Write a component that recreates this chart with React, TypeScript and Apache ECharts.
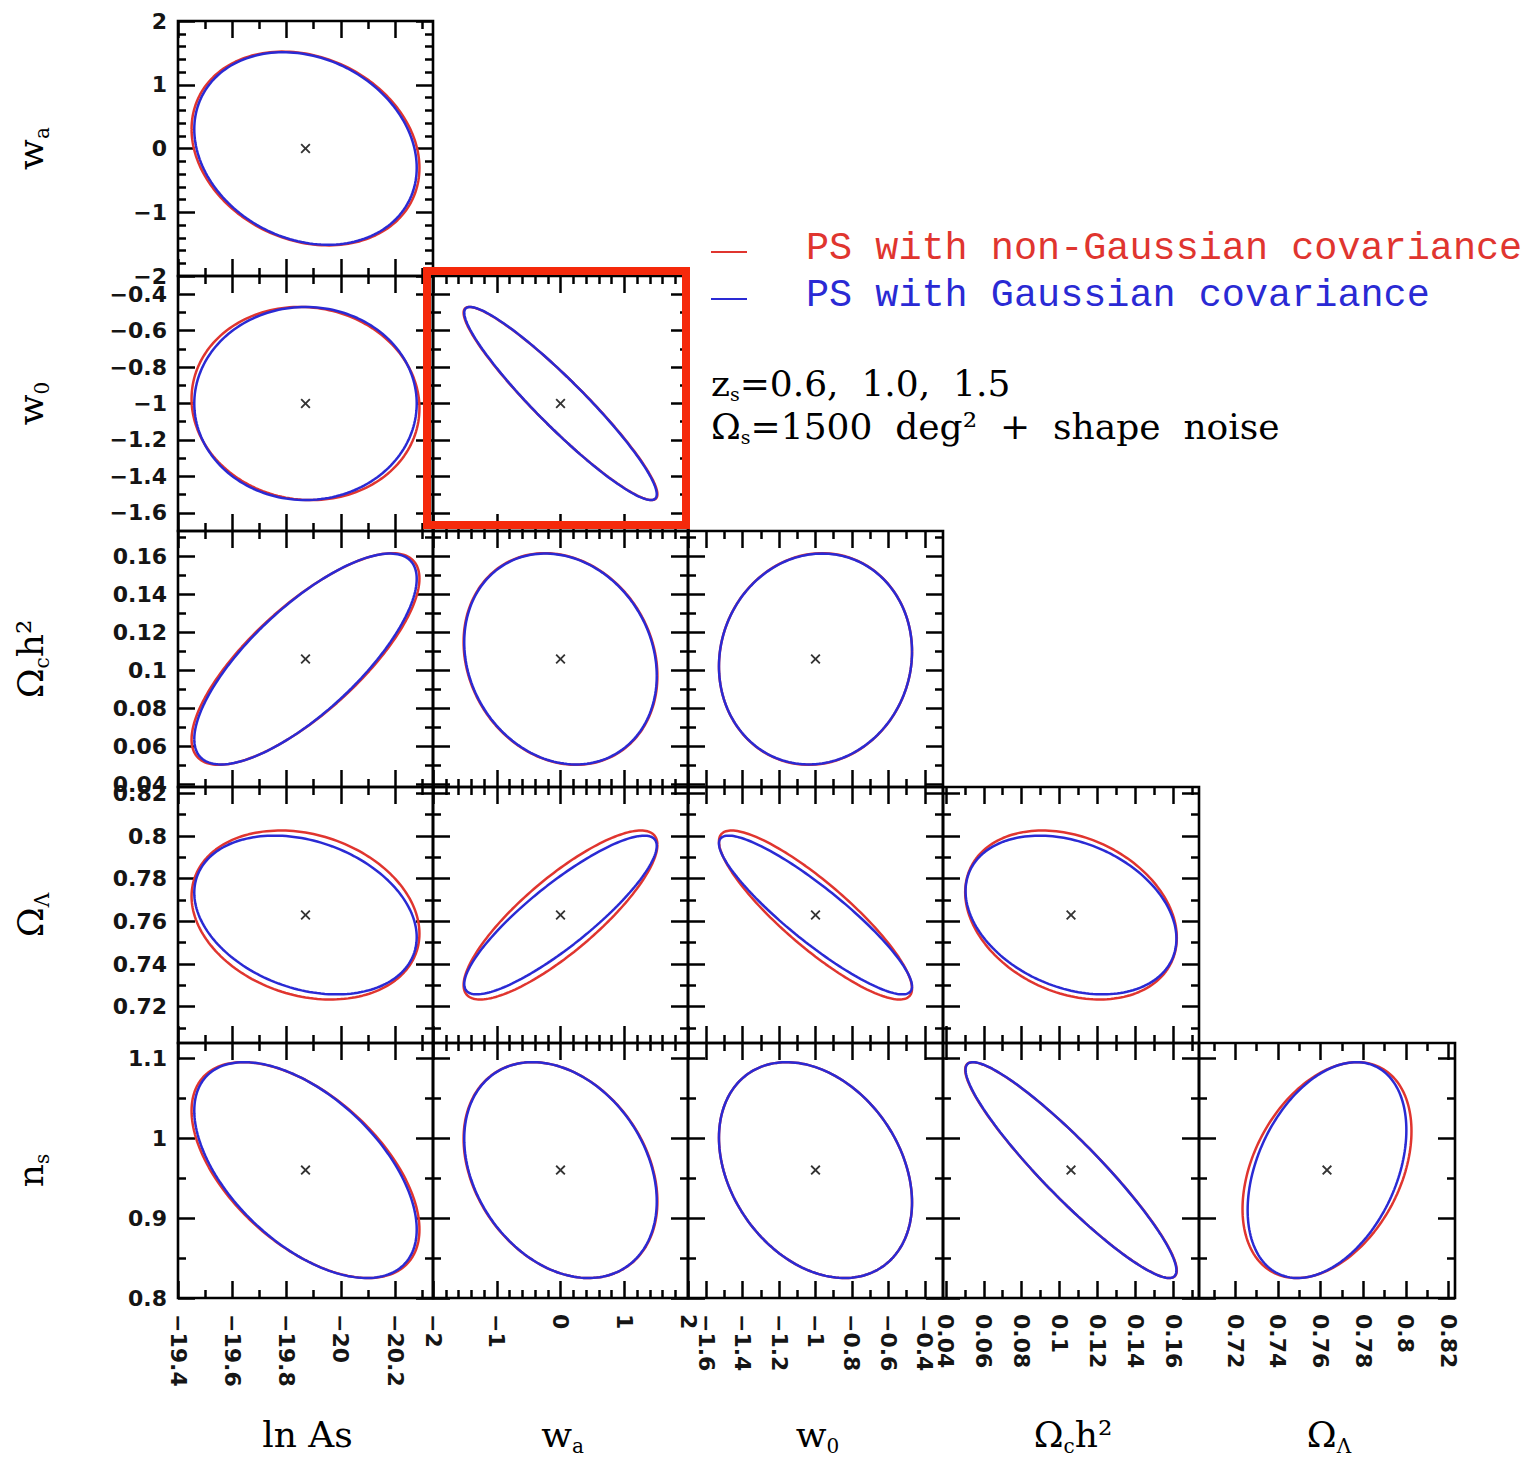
import React, { useEffect, useRef } from "react";
import * as echarts from "echarts";

// ---------- data ----------
// parameters: 0 ln As, 1 w_a, 2 w_0, 3 Ω_c h², 4 Ω_Λ, 5 n_s
const fiducial = [-19.87, 0, -1, 0.106, 0.763, 0.96];
const halfRed = [0.42, 1.52, 0.53, 0.0558, 0.0396, 0.135];
const halfBlue = [0.41, 1.51, 0.53, 0.0556, 0.0372, 0.135];
// correlation for panel [row][col]; rows: w_a, w_0, Ω_c h², Ω_Λ, n_s ; cols: ln As, w_a, w_0, Ω_c h², Ω_Λ
const rhoRed = [
  [0.2],
  [0.05, -0.94],
  [-0.76, -0.16, 0.07],
  [0.22, 0.83, -0.87, -0.27],
  [0.55, -0.29, -0.3, -0.93, 0.36],
];
const rhoBlue = [
  [0.2],
  [0.0, -0.94],
  [-0.76, -0.16, 0.07],
  [0.28, 0.87, -0.9, -0.3],
  [0.55, -0.29, -0.3, -0.93, 0.37],
];
const axisMin = [-20.34, -2, -1.7, 0.0385, 0.703, 0.8];
const axisMax = [-19.4, 2, -0.3, 0.1735, 0.823, 1.119];
const axisInverse = [true, false, false, false, false, false];
const majorTicks = [
  [-19.4, -19.6, -19.8, -20, -20.2],
  [-2, -1, 0, 1, 2],
  [-1.6, -1.4, -1.2, -1, -0.8, -0.6, -0.4],
  [0.04, 0.06, 0.08, 0.1, 0.12, 0.14, 0.16],
  [0.72, 0.74, 0.76, 0.78, 0.8, 0.82],
  [0.8, 0.9, 1, 1.1],
];
const minorTicks = [
  [-19.5, -19.7, -19.9, -20.1, -20.3],
  [-1.8, -1.6, -1.4, -1.2, -0.8, -0.6, -0.4, -0.2, 0.2, 0.4, 0.6, 0.8, 1.2, 1.4, 1.6, 1.8],
  [-1.5, -1.3, -1.1, -0.9, -0.7, -0.5],
  [0.05, 0.07, 0.09, 0.11, 0.13, 0.15, 0.17],
  [0.71, 0.73, 0.75, 0.77, 0.79, 0.81],
  [0.85, 0.95, 1.05],
];
const xTitles = ["{m|ln As}", "{m|w}{s|a}", "{m|w}{s|0}", "{m|Ω}{s|c}{m|h²}", "{m|Ω}{s|Λ}"];
const yTitles = ["{m|w}{s|a}", "{m|w}{s|0}", "{m|Ω}{s|c}{m|h²}", "{m|Ω}{s|Λ}", "{m|n}{s|s}"];
const legendNames = ["PS with non-Gaussian covariance", "PS with Gaussian covariance"];
const noteLines = ["{m|z}{s|s}{m|=0.6,  1.0,  1.5}", "{m|Ω}{s|s}{m|=1500  deg²  +  shape  noise}"];

// ---------- layout ----------
const COL_X = [178, 433, 688, 943, 1199, 1455];
const ROW_Y = [21, 276, 531, 787, 1043, 1298];
const RED = "#e0352f";
const BLUE = "#2a2ad4";
const SERIF = "DejaVu Serif";

const fmt = (v: number) => String(Math.round(v * 10000) / 10000).replace("-", "\u2212");

function ellipse(cx: number, cy: number, hx: number, hy: number, rho: number) {
  const pts: number[][] = [];
  const s = Math.sqrt(1 - rho * rho);
  for (let i = 0; i <= 180; i++) {
    const t = (i / 180) * 2 * Math.PI;
    pts.push([cx + hx * Math.cos(t), cy + hy * (rho * Math.cos(t) + s * Math.sin(t))]);
  }
  return pts;
}

function makeAxis(p: number, gi: number, pos: string, major: boolean, labels: boolean, isX: boolean) {
  return {
    type: "value",
    gridIndex: gi,
    position: pos,
    min: axisMin[p],
    max: axisMax[p],
    inverse: axisInverse[p],
    axisLine: { show: false, onZero: false },
    splitLine: { show: false },
    axisTick: {
      show: true,
      inside: true,
      length: major ? 17 : 8,
      customValues: major ? majorTicks[p] : minorTicks[p],
      lineStyle: { color: "#000", width: 2.5 },
    },
    axisLabel: {
      show: labels,
      customValues: majorTicks[p],
      formatter: fmt,
      rotate: isX ? -90 : 0,
      margin: isX ? 16 : 11,
      color: "#151515",
      fontSize: 22,
      fontWeight: "bold",
      fontFamily: "DejaVu Sans",
      hideOverlap: false,
      showMinLabel: true,
      showMaxLabel: true,
    },
  };
}

const richStyles = {
  m: { fontSize: 36, lineHeight: 44, fontFamily: SERIF, fill: "#000", color: "#000" },
  s: { fontSize: 20, lineHeight: 18, verticalAlign: "bottom", fontFamily: SERIF, fill: "#000", color: "#000" },
};

function buildOption() {
  const grid: any[] = [];
  const xAxis: any[] = [];
  const yAxis: any[] = [];
  const series: any[] = [];
  let gi = 0;
  for (let r = 0; r < 5; r++) {
    for (let c = 0; c <= r; c++) {
      const px = c;
      const py = r + 1;
      grid.push({
        left: COL_X[c],
        top: ROW_Y[r],
        width: COL_X[c + 1] - COL_X[c],
        height: ROW_Y[r + 1] - ROW_Y[r],
        show: true,
        borderColor: "#000",
        borderWidth: 2.6,
        backgroundColor: "rgba(0,0,0,0)",
      });
      const xi = xAxis.length;
      xAxis.push(makeAxis(px, gi, "bottom", true, r === 4, true));
      xAxis.push(makeAxis(px, gi, "bottom", false, false, true));
      xAxis.push(makeAxis(px, gi, "top", true, false, true));
      xAxis.push(makeAxis(px, gi, "top", false, false, true));
      const yi = yAxis.length;
      yAxis.push(makeAxis(py, gi, "left", true, c === 0, false));
      yAxis.push(makeAxis(py, gi, "left", false, false, false));
      yAxis.push(makeAxis(py, gi, "right", true, false, false));
      yAxis.push(makeAxis(py, gi, "right", false, false, false));

      series.push({
        type: "line",
        xAxisIndex: xi,
        yAxisIndex: yi,
        data: ellipse(fiducial[px], fiducial[py], halfRed[px], halfRed[py], rhoRed[r][c]),
        showSymbol: false,
        symbol: "none",
        lineStyle: { color: RED, width: 2.5 },
        z: 3,
        silent: true,
      });
      series.push({
        type: "line",
        xAxisIndex: xi,
        yAxisIndex: yi,
        data: ellipse(fiducial[px], fiducial[py], halfBlue[px], halfBlue[py], rhoBlue[r][c]),
        showSymbol: false,
        symbol: "none",
        lineStyle: { color: BLUE, width: 2.5 },
        z: 4,
        silent: true,
      });
      series.push({
        type: "scatter",
        xAxisIndex: xi,
        yAxisIndex: yi,
        data: [[fiducial[px], fiducial[py]]],
        symbol: "path://M0,1.3L1.3,0L5,3.7L8.7,0L10,1.3L6.3,5L10,8.7L8.7,10L5,6.3L1.3,10L0,8.7L3.7,5Z",
        symbolSize: 10,
        itemStyle: { color: "#000" },
        z: 5,
        silent: true,
      });
      gi++;
    }
  }

  const graphic: any[] = [];
  // bottom titles
  for (let c = 0; c < 5; c++) {
    graphic.push({
      type: "text",
      x: (COL_X[c] + COL_X[c + 1]) / 2 + 2,
      y: 1434,
      style: {
        text: xTitles[c],
        rich: richStyles,
        align: "center",
        verticalAlign: "middle",
        textAlign: "center",
        textVerticalAlign: "middle",
        fill: "#000",
      },
    });
  }
  // left titles
  for (let r = 0; r < 5; r++) {
    graphic.push({
      type: "text",
      x: 30,
      y: (ROW_Y[r] + ROW_Y[r + 1]) / 2,
      rotation: Math.PI / 2,
      style: {
        text: yTitles[r],
        rich: richStyles,
        align: "center",
        verticalAlign: "middle",
        textAlign: "center",
        textVerticalAlign: "middle",
        fill: "#000",
      },
    });
  }
  // legend
  const legColors = [RED, BLUE];
  const legY = [252, 299];
  for (let i = 0; i < 2; i++) {
    graphic.push({
      type: "line",
      shape: { x1: 711, y1: legY[i], x2: 747, y2: legY[i] },
      style: { stroke: legColors[i], lineWidth: 2 },
    });
    graphic.push({
      type: "text",
      x: 806,
      y: legY[i] - 3,
      style: {
        text: legendNames[i],
        fontFamily: "Liberation Mono",
        fontSize: 38.5,
        fill: legColors[i],
        align: "left",
        verticalAlign: "middle",
        textAlign: "left",
        textVerticalAlign: "middle",
      },
    });
  }
  const noteY = [383, 426];
  const noteRich = {
    m: { fontSize: 36, lineHeight: 40, fontFamily: SERIF, fill: "#000", color: "#000" },
    s: { fontSize: 19, lineHeight: 16, verticalAlign: "bottom", fontFamily: SERIF, fill: "#000", color: "#000" },
  };
  for (let i = 0; i < 2; i++) {
    graphic.push({
      type: "text",
      x: 711,
      y: noteY[i],
      style: {
        text: noteLines[i],
        rich: noteRich,
        align: "left",
        verticalAlign: "middle",
        textAlign: "left",
        textVerticalAlign: "middle",
        fill: "#000",
      },
    });
  }
  // highlight box
  graphic.push({
    type: "rect",
    shape: { x: 427, y: 271, width: 259, height: 254 },
    style: { fill: "none", stroke: "#f5290b", lineWidth: 8 },
    z: 100,
  });

  return {
    animation: false,
    backgroundColor: "#fff",
    grid,
    xAxis,
    yAxis,
    series,
    graphic,
  };
}

export default function App() {
  const ref = useRef<HTMLDivElement>(null);
  useEffect(() => {
    if (!ref.current) return;
    const chart = echarts.init(ref.current, undefined, { renderer: "svg" });
    chart.setOption(buildOption() as any);
    return () => chart.dispose();
  }, []);
  return (
    <div
      ref={ref}
      style={{ position: "fixed", left: 0, top: 0, width: 1531, height: 1460, background: "#fff" }}
    />
  );
}
